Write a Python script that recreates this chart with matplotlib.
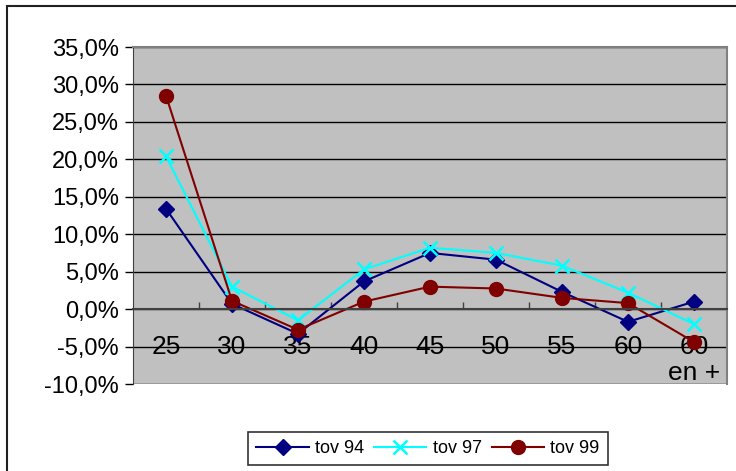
import matplotlib.pyplot as plt
from matplotlib.patches import Rectangle
from matplotlib.ticker import FixedLocator, FuncFormatter, NullFormatter

plt.rcParams['font.family'] = ['Liberation Sans', 'DejaVu Sans']

# data
ages = ['25', '30', '35', '40', '45', '50', '55', '60', '60\nen +']
tov94 = [13.4, 0.7, -3.3, 3.7, 7.5, 6.6, 2.3, -1.7, 1.0]
tov97 = [20.4, 3.0, -1.5, 5.3, 8.2, 7.5, 5.8, 2.2, -2.0]
tov99 = [28.5, 1.1, -2.75, 1.0, 3.0, 2.75, 1.5, 0.8, -4.4]

W, H = 736, 471
fig = plt.figure(figsize=(W / 100, H / 100), dpi=100)

# outer chart border (runs off the right and bottom edges)
fig.patches.append(Rectangle((7 / W, -0.05), 1.1, 1.05 - 6 / H,
                             transform=fig.transFigure, fill=False,
                             edgecolor='#202020', linewidth=1.5))

ax = fig.add_axes([133 / W, 1 - 384 / H, (727 - 133) / W, (384 - 47) / H])
ax.set_facecolor('#C0C0C0')

x = range(len(ages))
ax.plot(x, tov94, color='#000080', marker='D', markersize=8, linewidth=1.5, label='tov 94')
ax.plot(x, tov97, color='#00FFFF', marker='x', markersize=10, markeredgewidth=1.8,
        linewidth=1.5, label='tov 97')
ax.plot(x, tov99, color='#800000', marker='o', markersize=10, linewidth=1.5, label='tov 99')

ax.set_xlim(-0.5, len(ages) - 0.5)
ax.set_ylim(-10, 35)

# y axis
ax.set_yticks(range(-10, 36, 5))
ax.yaxis.set_major_formatter(FuncFormatter(lambda v, p: ('%.1f%%' % v).replace('.', ',')))
ax.tick_params(axis='y', direction='out', length=6, width=1, labelsize=17, pad=4)
ax.yaxis.grid(True, color='black', linewidth=1)
ax.set_axisbelow(True)

# x axis sitting on 0
ax.spines['bottom'].set_position(('data', 0))
ax.spines['bottom'].set_color('#404040')
ax.spines['bottom'].set_linewidth(1.5)
ax.xaxis.set_major_locator(FixedLocator([i + 0.5 for i in range(len(ages) - 1)]))
ax.xaxis.set_major_formatter(NullFormatter())
ax.xaxis.set_minor_locator(FixedLocator(list(x)))
ax.xaxis.set_minor_formatter(FuncFormatter(lambda v, p: ages[int(round(v))]))
ax.tick_params(axis='x', which='major', direction='in', length=5, width=1, color='#404040')
ax.tick_params(axis='x', which='minor', length=0, labelsize=19, pad=19)
for t in ax.xaxis.get_minorticklabels():
    t.set_linespacing(1.1)

ax.spines['left'].set_color('#404040')
for s in ['top', 'right']:
    ax.spines[s].set_color('#808080')
    ax.spines[s].set_linewidth(1.5)

leg = fig.legend(loc='center', bbox_to_anchor=(428 / W, 1 - 448.5 / H), ncol=3,
                 fontsize=13, frameon=True, fancybox=False, edgecolor='black',
                 handlelength=2.9, columnspacing=0.55, handletextpad=0.35,
                 borderpad=0.45)
leg.get_frame().set_linewidth(1.2)

fig.savefig('out.png', dpi=100)
